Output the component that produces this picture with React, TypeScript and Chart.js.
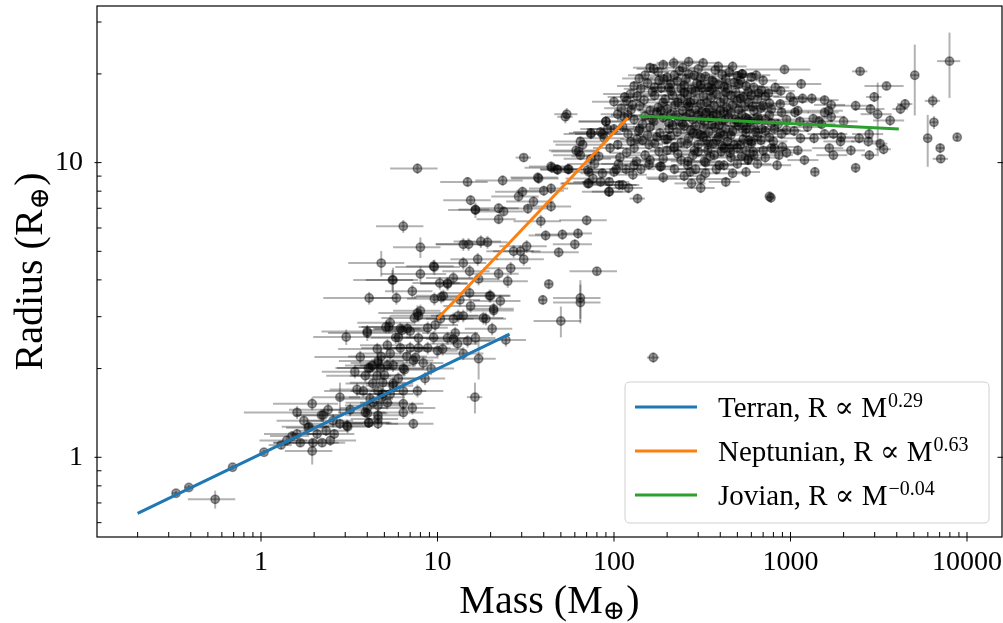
import { useEffect, useRef } from "react";
import { Chart, registerables } from "chart.js";

Chart.register(...registerables);

// [mass (M_earth), radius (R_earth), fractional mass error, fractional radius error]
const terranPoints: number[][] = [
  [0.33, 0.755, 0.05, 0.02], [0.39, 0.79, 0.05, 0.02], [0.55, 0.72, 0.3, 0.07],
  [0.69, 0.925, 0.04, 0.02], [1.04, 1.04, 0.03, 0.02], [1.3, 1.1, 0.15, 0.03],
  [1.4, 1.14, 0.3, 0.04], [1.6, 1.2, 0.35, 0.04], [1.67, 1.12, 0.3, 0.03],
  [1.6, 1.42, 0.5, 0.05], [1.85, 1.26, 0.25, 0.04], [1.95, 1.52, 0.4, 0.05],
  [1.97, 1.12, 0.4, 0.03], [1.95, 1.05, 0.3, 0.1], [2.08, 1.2, 0.3, 0.04],
  [2.2, 1.39, 0.3, 0.05], [2.22, 1.12, 0.35, 0.03], [2.25, 1.39, 0.3, 0.05],
  [2.34, 1.23, 0.3, 0.04], [2.47, 1.14, 0.4, 0.04], [2.56, 1.33, 0.3, 0.05],
  [2.8, 1.3, 0.35, 0.04], [2.8, 1.6, 0.3, 0.12], [1.87, 1.27, 0.3, 0.04],
  [3.1, 1.27, 0.3, 0.05], [3.07, 1.28, 0.4, 0.05], [1.75, 1.33, 0.3, 0.04],
  [2.4, 1.45, 0.4, 0.05], [2.6, 1.2, 0.3, 0.04], [1.5, 1.18, 0.25, 0.04],
];

const smallPoints: number[][] = [
  [3.04, 2.56, 0.35, 0.06], [4.0, 2.64, 0.4, 0.06], [3.65, 2.19, 0.45, 0.05],
  [4.56, 2.33, 0.4, 0.05], [4.06, 2.01, 0.35, 0.05], [4.6, 2.09, 0.3, 0.05],
  [3.9, 1.89, 0.4, 0.05], [4.55, 1.89, 0.3, 0.05], [5.2, 2.05, 0.35, 0.05],
  [4.3, 1.78, 0.3, 0.05], [4.9, 1.79, 0.35, 0.05], [5.6, 1.75, 0.3, 0.05],
  [3.8, 1.68, 0.4, 0.05], [4.9, 1.64, 0.3, 0.05], [4.15, 1.58, 0.35, 0.05],
  [4.0, 1.47, 0.3, 0.05], [4.6, 1.5, 0.35, 0.05], [4.0, 1.41, 0.3, 0.04],
  [4.6, 1.35, 0.3, 0.04], [4.06, 1.31, 0.35, 0.04], [4.6, 1.3, 0.3, 0.04],
  [5.4, 1.64, 0.35, 0.05], [5.2, 1.53, 0.3, 0.05], [4.8, 4.56, 0.35, 0.1],
  [5.55, 4.0, 0.4, 0.08], [8.0, 4.19, 0.4, 0.06], [7.2, 3.66, 0.3, 0.05],
  [4.1, 3.47, 0.45, 0.05], [5.85, 3.47, 0.3, 0.05], [4.0, 2.67, 0.45, 0.05],
  [5.4, 2.86, 0.35, 0.06], [5.1, 2.77, 0.3, 0.05], [6.3, 2.7, 0.35, 0.05],
  [7.0, 2.68, 0.3, 0.05], [7.7, 3.09, 0.4, 0.06], [8.0, 3.14, 0.3, 0.05],
  [7.4, 2.97, 0.35, 0.05], [6.16, 2.35, 0.4, 0.05], [7.8, 2.35, 0.3, 0.05],
  [7.5, 2.18, 0.35, 0.05], [4.6, 2.12, 0.4, 0.05], [4.15, 2.01, 0.35, 0.05],
  [4.75, 2.01, 0.3, 0.05], [5.6, 2.05, 0.35, 0.05], [6.4, 2.0, 0.3, 0.05],
  [4.6, 1.68, 0.3, 0.05], [4.85, 1.6, 0.35, 0.05], [4.3, 1.53, 0.3, 0.05],
  [6.4, 1.68, 0.35, 0.05], [5.6, 1.78, 0.3, 0.05], [7.7, 1.68, 0.4, 0.05],
  [6.4, 1.52, 0.3, 0.05], [7.2, 1.47, 0.35, 0.05], [3.9, 1.42, 0.3, 0.04],
  [4.6, 1.39, 0.35, 0.04], [4.1, 1.31, 0.3, 0.04], [6.4, 1.42, 0.3, 0.05],
  [7.3, 1.3, 0.3, 0.04], [6.4, 6.08, 0.3, 0.05], [8.0, 5.16, 0.3, 0.08],
  [9.6, 4.42, 0.4, 0.06], [5.6, 4.0, 0.3, 0.1], [5.3, 2.77, 0.3, 0.05],
  [6.75, 2.73, 0.35, 0.05], [6.16, 2.73, 0.3, 0.05], [7.8, 2.54, 0.3, 0.05],
  [7.0, 2.35, 0.3, 0.05], [8.8, 2.35, 0.35, 0.05], [8.8, 2.75, 0.3, 0.05],
  [9.7, 2.81, 0.35, 0.05], [7.8, 3.02, 0.3, 0.05], [4.27, 2.05, 0.3, 0.05],
  [6.5, 1.98, 0.35, 0.05], [7.3, 2.13, 0.3, 0.05], [8.3, 2.09, 0.3, 0.05],
  [4.8, 2.2, 0.35, 0.05], [5.2, 2.4, 0.3, 0.05], [5.8, 2.55, 0.3, 0.05],
  [6.7, 2.2, 0.3, 0.05], [8.5, 1.85, 0.3, 0.05], [9.2, 2.0, 0.35, 0.05],
  [3.4, 1.95, 0.35, 0.05], [3.5, 1.7, 0.3, 0.05], [5.0, 1.9, 0.3, 0.05],
  [6.0, 1.85, 0.35, 0.05], [5.4, 2.25, 0.3, 0.05], [6.0, 2.55, 0.3, 0.05],
  [9.5, 2.55, 0.3, 0.05], [3.2, 1.45, 0.3, 0.05],
];

const midPoints: number[][] = [
  [10.7, 2.33, 0.3, 0.05], [11.4, 2.54, 0.3, 0.05], [12.6, 2.64, 0.35, 0.05],
  [12.3, 2.52, 0.3, 0.05], [13.0, 2.43, 0.3, 0.05], [14.8, 2.48, 0.35, 0.05],
  [16.4, 2.54, 0.3, 0.05], [14.0, 2.25, 0.3, 0.05], [17.1, 2.16, 0.25, 0.15],
  [16.3, 1.6, 0.1, 0.12], [20.4, 2.73, 0.3, 0.05], [18.8, 2.95, 0.3, 0.05],
  [20.8, 3.19, 0.3, 0.05], [14.0, 3.02, 0.3, 0.05], [12.3, 2.95, 0.3, 0.05],
  [10.4, 2.95, 0.3, 0.05], [10.0, 2.3, 0.3, 0.05], [15.0, 5.28, 0.35, 0.05],
  [14.0, 5.28, 0.3, 0.05], [17.6, 5.4, 0.3, 0.05], [16.4, 6.9, 0.3, 0.06],
  [19.2, 5.37, 0.3, 0.05], [14.0, 4.56, 0.35, 0.05], [16.9, 4.7, 0.3, 0.05],
  [15.2, 4.28, 0.3, 0.05], [10.3, 3.9, 0.3, 0.05], [11.4, 3.9, 0.3, 0.05],
  [12.3, 4.06, 0.3, 0.05], [10.8, 3.53, 0.3, 0.05], [9.6, 3.45, 0.3, 0.05],
  [13.4, 3.42, 0.3, 0.05], [15.2, 3.61, 0.3, 0.05], [17.1, 4.03, 0.3, 0.05],
  [19.7, 3.53, 0.3, 0.05], [7.7, 9.55, 0.3, 0.04], [14.8, 8.6, 0.3, 0.04],
  [23.4, 8.7, 0.3, 0.04], [30.8, 10.4, 0.1, 0.03], [15.4, 7.45, 0.3, 0.04],
  [16.4, 6.93, 0.2, 0.04], [22.2, 7.0, 0.3, 0.04], [23.7, 6.83, 0.3, 0.04],
  [22.2, 6.43, 0.25, 0.04], [28.8, 7.68, 0.3, 0.04], [30.3, 7.97, 0.3, 0.04],
  [32.5, 6.98, 0.3, 0.04], [35, 7.38, 0.3, 0.04], [37.4, 8.83, 0.3, 0.04],
  [44, 9.7, 0.25, 0.04], [40, 8.03, 0.3, 0.04], [44, 8.17, 0.25, 0.04],
  [47.5, 9.5, 0.2, 0.04], [55.5, 9.5, 0.25, 0.04], [44, 7.1, 0.3, 0.04],
  [38.5, 6.33, 0.3, 0.05], [41, 5.66, 0.2, 0.04], [51, 5.7, 0.3, 0.04],
  [60, 5.28, 0.25, 0.04], [62.5, 5.75, 0.2, 0.04], [70, 6.37, 0.3, 0.04],
  [48.6, 4.96, 0.3, 0.04], [80, 4.28, 0.3, 0.03], [42.7, 3.87, 0.05, 0.04],
  [39.5, 3.42, 0.05, 0.04], [64.5, 3.47, 0.3, 0.15], [64.5, 3.35, 0.3, 0.15],
  [50, 2.9, 0.3, 0.12], [29.5, 5.0, 0.3, 0.05], [30.8, 4.7, 0.3, 0.05],
  [27, 5.0, 0.3, 0.05], [32, 5.2, 0.3, 0.05], [26, 4.38, 0.3, 0.05],
  [9.5, 4.45, 0.3, 0.05], [11.4, 3.87, 0.3, 0.05], [15.4, 3.26, 0.3, 0.05],
  [20, 3.53, 0.3, 0.05], [25, 3.96, 0.3, 0.05], [22.2, 4.2, 0.3, 0.05],
  [22.7, 3.39, 0.3, 0.05], [20.8, 3.15, 0.3, 0.05], [18.2, 2.97, 0.3, 0.05],
  [13.1, 3.02, 0.3, 0.05], [10.5, 3.5, 0.3, 0.05], [24.4, 2.5, 0.3, 0.05],
  [167, 2.18, 0.08, 0.04], [66.5, 11.5, 0.3, 0.04], [61, 11.0, 0.3, 0.04],
  [64.5, 10.6, 0.3, 0.04], [71, 9.45, 0.25, 0.04], [76, 8.83, 0.3, 0.04],
  [71, 8.5, 0.3, 0.04], [84, 8.6, 0.3, 0.04], [86, 9.2, 0.25, 0.04],
  [93.5, 7.97, 0.2, 0.04], [77.5, 9.9, 0.3, 0.04], [100, 9.3, 0.3, 0.04],
  [107, 8.4, 0.3, 0.04], [84, 12.7, 0.3, 0.04], [92, 13.0, 0.3, 0.04],
  [88, 12.1, 0.3, 0.04], [74, 12.5, 0.3, 0.04], [54, 14.6, 0.15, 0.05],
  [53, 14.3, 0.1, 0.05], [74, 12.6, 0.25, 0.04], [44.5, 9.6, 0.3, 0.04],
  [48, 9.45, 0.2, 0.04], [37, 8.9, 0.3, 0.04], [54.8, 9.5, 0.2, 0.04],
  [72, 9.3, 0.3, 0.04], [72, 8.5, 0.3, 0.04], [94, 8.6, 0.3, 0.04],
  [103, 9.5, 0.3, 0.04], [94, 7.97, 0.3, 0.04], [63, 10.9, 0.3, 0.04],
  [82, 10.5, 0.3, 0.04], [74, 10.3, 0.3, 0.04], [64.5, 11.8, 0.3, 0.04],
  [86, 12.5, 0.3, 0.04], [90, 13.8, 0.3, 0.04], [100, 13.0, 0.3, 0.04],
];

const jovianEdgePoints: number[][] = [
  [100, 16.1, 0.25, 0.04], [139, 19.3, 0.2, 0.04], [168, 20.8, 0.2, 0.04],
  [218, 21.8, 0.2, 0.05], [265, 22, 0.2, 0.04], [375, 20.6, 0.2, 0.04],
  [470, 21.2, 0.2, 0.04], [530, 20, 0.2, 0.04], [124, 17.1, 0.3, 0.04],
  [142, 17.8, 0.2, 0.04], [165, 17.4, 0.2, 0.04], [192, 19.2, 0.2, 0.04],
  [210, 18.5, 0.2, 0.04], [240, 17.8, 0.2, 0.04], [285, 19.8, 0.2, 0.04],
  [310, 18.4, 0.2, 0.04], [365, 18.8, 0.2, 0.04], [420, 18.1, 0.2, 0.04],
  [510, 18.5, 0.2, 0.04], [575, 17.4, 0.2, 0.04], [114, 14.3, 0.2, 0.04],
  [120, 12.5, 0.2, 0.04], [112, 8.4, 0.2, 0.04], [121, 8.2, 0.2, 0.04],
  [136, 7.55, 0.1, 0.04], [117, 9.5, 0.2, 0.04], [128, 9.1, 0.2, 0.04],
  [134, 10.1, 0.2, 0.04], [185, 9.7, 0.2, 0.04], [180, 10.9, 0.2, 0.04],
  [158, 11.5, 0.2, 0.04], [218, 11.2, 0.2, 0.04], [262, 10.1, 0.2, 0.04],
  [280, 10.6, 0.2, 0.04], [325, 10.1, 0.2, 0.04], [340, 11.5, 0.2, 0.04],
  [395, 9.8, 0.2, 0.04], [420, 9.8, 0.2, 0.04], [405, 10.9, 0.2, 0.04],
  [310, 8.8, 0.5, 0.04], [275, 8.5, 0.2, 0.04], [310, 8.2, 0.2, 0.04],
  [430, 8.6, 0.2, 0.04], [760, 7.67, 0.05, 0.04], [106, 9.9, 0.2, 0.04],
  [142, 9.5, 0.2, 0.04], [158, 9.85, 0.2, 0.04], [182, 9.7, 0.2, 0.04],
  [262, 9.8, 0.2, 0.04], [460, 10.4, 0.2, 0.04], [575, 10.2, 0.2, 0.04],
  [615, 10.9, 0.2, 0.04], [810, 11.2, 0.2, 0.04], [860, 10.6, 0.2, 0.04],
  [900, 11.3, 0.2, 0.04], [925, 20.7, 0.4, 0.03], [2480, 20.4, 0.1, 0.03],
  [3500, 18.2, 0.25, 0.03], [5060, 19.8, 0.05, 0.27], [7960, 22.1, 0.15, 0.25],
  [1150, 18.5, 0.3, 0.04], [535, 20, 0.2, 0.04], [685, 17.6, 0.2, 0.04],
  [750, 17.2, 0.2, 0.04], [1000, 16.7, 0.2, 0.04], [1170, 16.5, 0.2, 0.04],
  [1320, 16.5, 0.2, 0.04], [1560, 16.3, 0.2, 0.04], [1700, 15.7, 0.2, 0.04],
  [2340, 15.6, 0.25, 0.04], [2980, 16.7, 0.1, 0.04], [2840, 15.2, 0.2, 0.04],
  [3120, 14.6, 0.2, 0.28], [4200, 15.2, 0.1, 0.04], [4460, 15.8, 0.1, 0.04],
  [3670, 13.9, 0.2, 0.04], [6400, 16.2, 0.1, 0.05], [6500, 13.7, 0.05, 0.05],
  [5990, 12.1, 0.05, 0.2], [8800, 12.2, 0.03, 0.03], [7050, 11.2, 0.05, 0.04],
  [7100, 10.3, 0.1, 0.03], [2790, 12.5, 0.2, 0.04], [2760, 11.8, 0.2, 0.04],
  [2450, 12.1, 0.2, 0.04], [2800, 10.6, 0.1, 0.04], [3220, 11.6, 0.1, 0.04],
  [3370, 11.1, 0.1, 0.04], [2340, 9.6, 0.05, 0.04], [1375, 9.3, 0.05, 0.04],
  [775, 7.6, 0.05, 0.04], [1700, 14.3, 0.2, 0.04], [1560, 14.8, 0.2, 0.04],
  [1650, 15.0, 0.2, 0.04], [1345, 14.1, 0.2, 0.04], [1560, 12.5, 0.2, 0.04],
  [1750, 12.5, 0.2, 0.04], [1940, 12.2, 0.2, 0.04], [1920, 11.8, 0.2, 0.04],
  [1360, 12.1, 0.2, 0.04], [1140, 12.1, 0.2, 0.04], [1660, 11.2, 0.2, 0.04],
  [1750, 10.6, 0.2, 0.04], [875, 15.8, 0.2, 0.04], [1040, 16.1, 0.2, 0.04],
  [1060, 14.8, 0.2, 0.04], [1130, 13.8, 0.2, 0.04], [890, 14.8, 0.2, 0.04],
  [780, 15.2, 0.2, 0.04], [890, 12.5, 0.2, 0.04], [800, 11.8, 0.2, 0.04],
  [780, 11.2, 0.2, 0.04], [575, 10.3, 0.2, 0.04], [600, 11.8, 0.2, 0.04],
  [635, 12.7, 0.2, 0.04], [690, 13.0, 0.2, 0.04], [560, 13.0, 0.2, 0.04],
  [575, 14.0, 0.2, 0.04], [660, 14.0, 0.2, 0.04], [610, 15.5, 0.2, 0.04],
  [700, 15.6, 0.2, 0.04], [780, 13.6, 0.2, 0.04], [810, 13.0, 0.2, 0.04],
  [90, 13.8, 0.3, 0.04], [127, 15.7, 0.2, 0.04], [110, 15.3, 0.2, 0.04],
  [115, 16.7, 0.2, 0.04], [105, 11.5, 0.2, 0.04], [118, 10.8, 0.2, 0.04],
  [130, 11.2, 0.2, 0.04],
];

const jovianCorePoints: number[][] = [
  [150, 19.8, 0.2, 0.04], [178, 20.3, 0.15, 0.04], [200, 19.5, 0.2, 0.04], [235, 20.5, 0.2, 0.04],
  [255, 19.2, 0.15, 0.04], [300, 20.8, 0.2, 0.04], [330, 19.6, 0.2, 0.04], [410, 19.9, 0.2, 0.04],
  [450, 20.3, 0.15, 0.04], [600, 19.5, 0.2, 0.04], [640, 19.8, 0.2, 0.04],
  [130, 18.2, 0.2, 0.04], [155, 18.6, 0.2, 0.04], [185, 17.9, 0.15, 0.04], [205, 18.0, 0.2, 0.04],
  [228, 18.9, 0.2, 0.04], [250, 18.3, 0.2, 0.04], [275, 17.7, 0.15, 0.04], [295, 18.6, 0.2, 0.04],
  [340, 18.0, 0.2, 0.04], [350, 17.5, 0.2, 0.04], [390, 18.4, 0.15, 0.04], [440, 17.9, 0.2, 0.04],
  [480, 18.7, 0.2, 0.04], [560, 18.2, 0.2, 0.04], [620, 18.0, 0.2, 0.04], [660, 17.2, 0.2, 0.04],
  [118, 16.2, 0.2, 0.04], [135, 16.8, 0.2, 0.04], [148, 16.3, 0.15, 0.04], [170, 16.9, 0.2, 0.04],
  [195, 16.4, 0.2, 0.04], [215, 16.9, 0.2, 0.04], [240, 16.5, 0.15, 0.04], [260, 17.0, 0.2, 0.04],
  [285, 16.3, 0.2, 0.04], [320, 16.8, 0.2, 0.04], [355, 16.6, 0.15, 0.04], [380, 17.1, 0.2, 0.04],
  [420, 16.4, 0.2, 0.04], [460, 16.9, 0.2, 0.04], [500, 16.2, 0.2, 0.04], [540, 16.7, 0.15, 0.04],
  [600, 16.9, 0.2, 0.04], [650, 16.4, 0.2, 0.04], [720, 16.8, 0.2, 0.04],
  [125, 15.1, 0.2, 0.04], [140, 15.6, 0.2, 0.04], [160, 15.0, 0.15, 0.04], [178, 15.4, 0.2, 0.04],
  [200, 15.2, 0.2, 0.04], [222, 15.7, 0.2, 0.04], [245, 15.0, 0.15, 0.04], [265, 15.5, 0.2, 0.04],
  [290, 15.1, 0.2, 0.04], [310, 15.8, 0.2, 0.04], [345, 15.2, 0.15, 0.04], [370, 15.6, 0.2, 0.04],
  [400, 15.0, 0.2, 0.04], [435, 15.4, 0.2, 0.04], [470, 15.7, 0.15, 0.04], [510, 15.1, 0.2, 0.04],
  [550, 15.5, 0.2, 0.04], [620, 15.0, 0.2, 0.04], [680, 15.3, 0.2, 0.04], [760, 15.9, 0.2, 0.04],
  [130, 14.0, 0.2, 0.04], [150, 14.4, 0.2, 0.04], [168, 13.8, 0.15, 0.04], [190, 14.2, 0.2, 0.04],
  [210, 14.6, 0.2, 0.04], [232, 13.9, 0.2, 0.04], [255, 14.3, 0.15, 0.04], [280, 14.0, 0.2, 0.04],
  [300, 14.5, 0.2, 0.04], [325, 13.8, 0.2, 0.04], [350, 14.2, 0.15, 0.04], [380, 14.6, 0.2, 0.04],
  [410, 13.9, 0.2, 0.04], [445, 14.3, 0.2, 0.04], [490, 14.0, 0.15, 0.04], [530, 14.5, 0.2, 0.04],
  [590, 13.8, 0.2, 0.04], [650, 14.3, 0.2, 0.04], [720, 14.0, 0.2, 0.04],
  [138, 12.8, 0.2, 0.04], [160, 13.2, 0.2, 0.04], [182, 12.6, 0.15, 0.04], [205, 13.0, 0.2, 0.04],
  [228, 12.7, 0.2, 0.04], [250, 13.3, 0.2, 0.04], [272, 12.9, 0.15, 0.04], [298, 12.5, 0.2, 0.04],
  [322, 13.1, 0.2, 0.04], [345, 12.7, 0.2, 0.04], [372, 13.2, 0.15, 0.04], [400, 12.6, 0.2, 0.04],
  [430, 13.0, 0.2, 0.04], [470, 12.8, 0.2, 0.04], [510, 13.3, 0.15, 0.04], [560, 12.6, 0.2, 0.04],
  [720, 12.8, 0.2, 0.04],
  [145, 11.9, 0.2, 0.04], [170, 11.6, 0.2, 0.04], [195, 12.0, 0.15, 0.04], [240, 11.7, 0.2, 0.04],
  [265, 12.1, 0.2, 0.04], [300, 11.5, 0.2, 0.04], [335, 11.9, 0.15, 0.04], [365, 11.6, 0.2, 0.04],
  [390, 12.2, 0.2, 0.04], [440, 11.8, 0.2, 0.04], [480, 11.5, 0.15, 0.04], [540, 12.0, 0.2, 0.04],
  [600, 11.6, 0.2, 0.04], [680, 11.9, 0.2, 0.04],
  [150, 10.6, 0.2, 0.04], [200, 11.0, 0.2, 0.04], [230, 10.7, 0.15, 0.04], [300, 10.9, 0.2, 0.04],
  [350, 10.5, 0.2, 0.04], [455, 10.8, 0.15, 0.04], [500, 11.2, 0.2, 0.04], [620, 10.6, 0.2, 0.04],
  [700, 11.0, 0.2, 0.04],
];

const jovianExtraPoints: number[][] = [
  [160, 21.0, 0.2, 0.04], [190, 21.5, 0.2, 0.04], [245, 21.0, 0.2, 0.04], [320, 21.8, 0.2, 0.04],
  [390, 21.2, 0.2, 0.04], [520, 19.0, 0.2, 0.04], [700, 19.0, 0.2, 0.04], [820, 18.0, 0.2, 0.04],
  [880, 17.5, 0.2, 0.04], [145, 13.5, 0.2, 0.04], [175, 14.8, 0.2, 0.04], [215, 13.4, 0.2, 0.04],
  [260, 15.8, 0.2, 0.04], [315, 14.9, 0.2, 0.04], [360, 13.5, 0.2, 0.04], [420, 14.9, 0.2, 0.04],
  [480, 13.6, 0.2, 0.04], [560, 14.2, 0.2, 0.04], [620, 13.2, 0.2, 0.04], [760, 14.5, 0.2, 0.04],
  [850, 13.5, 0.2, 0.04], [950, 14.0, 0.2, 0.04], [1100, 15.0, 0.2, 0.04], [1250, 13.2, 0.2, 0.04],
  [1450, 13.8, 0.2, 0.04], [130, 9.8, 0.2, 0.04], [160, 10.2, 0.2, 0.04], [190, 8.9, 0.2, 0.04],
  [220, 9.5, 0.2, 0.04], [250, 9.0, 0.2, 0.04], [290, 9.5, 0.2, 0.04], [330, 9.2, 0.2, 0.04],
  [370, 10.6, 0.2, 0.04], [420, 11.2, 0.2, 0.04], [500, 9.9, 0.2, 0.04], [560, 9.3, 0.2, 0.04],
  [650, 9.9, 0.2, 0.04], [720, 10.4, 0.2, 0.04], [840, 9.8, 0.2, 0.04], [950, 10.8, 0.2, 0.04],
  [1100, 11.0, 0.2, 0.04], [1200, 10.2, 0.2, 0.04], [1500, 13.5, 0.2, 0.04], [2000, 13.8, 0.2, 0.04],
  [2200, 11.0, 0.2, 0.04], [125, 11.8, 0.2, 0.04], [155, 12.4, 0.2, 0.04], [210, 12.3, 0.2, 0.04],
  [280, 12.6, 0.2, 0.04], [320, 12.2, 0.2, 0.04], [410, 11.4, 0.2, 0.04], [460, 12.4, 0.2, 0.04],
  [580, 11.9, 0.2, 0.04], [650, 12.3, 0.2, 0.04], [760, 12.2, 0.2, 0.04], [950, 12.9, 0.2, 0.04],
  [1050, 12.8, 0.2, 0.04], [105, 14.6, 0.2, 0.04], [112, 13.2, 0.2, 0.04], [95, 11.2, 0.2, 0.04],
  [108, 10.4, 0.2, 0.04],
];

const jovianDensePoints: number[][] = [
  [170, 18.0, 0.2, 0.04], [190, 16.0, 0.2, 0.04], [210, 17.5, 0.15, 0.04], [230, 16.0, 0.2, 0.04],
  [250, 17.3, 0.2, 0.04], [270, 16.0, 0.15, 0.04], [290, 17.5, 0.2, 0.04], [315, 17.9, 0.2, 0.04],
  [335, 16.0, 0.15, 0.04], [360, 17.8, 0.2, 0.04], [400, 16.0, 0.2, 0.04], [430, 17.3, 0.15, 0.04],
  [490, 17.3, 0.2, 0.04], [520, 16.5, 0.2, 0.04], [580, 16.0, 0.2, 0.04],
  [165, 14.1, 0.2, 0.04], [185, 15.0, 0.15, 0.04], [205, 13.6, 0.2, 0.04], [225, 14.5, 0.2, 0.04],
  [245, 13.5, 0.15, 0.04], [270, 14.7, 0.2, 0.04], [290, 13.3, 0.2, 0.04], [310, 14.0, 0.15, 0.04],
  [335, 14.8, 0.2, 0.04], [365, 14.4, 0.2, 0.04], [395, 13.4, 0.15, 0.04], [425, 14.0, 0.2, 0.04],
  [460, 14.8, 0.2, 0.04], [505, 13.8, 0.15, 0.04], [545, 13.3, 0.2, 0.04],
  [175, 12.2, 0.2, 0.04], [200, 12.0, 0.2, 0.04], [220, 11.3, 0.15, 0.04], [260, 11.6, 0.2, 0.04],
  [285, 11.0, 0.2, 0.04], [310, 12.4, 0.15, 0.04], [340, 11.0, 0.2, 0.04], [380, 11.9, 0.2, 0.04],
  [420, 12.4, 0.15, 0.04], [450, 11.2, 0.2, 0.04], [520, 11.5, 0.2, 0.04], [560, 11.0, 0.2, 0.04],
  [180, 19.0, 0.2, 0.04], [220, 19.8, 0.2, 0.04], [265, 20.0, 0.15, 0.04], [310, 19.4, 0.2, 0.04],
  [360, 19.0, 0.2, 0.04], [430, 19.2, 0.15, 0.04], [500, 19.7, 0.2, 0.04],
  [140, 13.0, 0.2, 0.04], [120, 14.5, 0.2, 0.04], [135, 12.0, 0.2, 0.04], [190, 10.3, 0.2, 0.04],
  [240, 10.2, 0.2, 0.04], [270, 9.3, 0.2, 0.04], [330, 10.0, 0.2, 0.04], [380, 9.5, 0.2, 0.04],
  [470, 9.2, 0.2, 0.04], [530, 10.5, 0.2, 0.04],
];

const terranFitMass = [0.2, 25.6];
const terranFitRadius = [0.645, 2.62];
const neptunianFitMass = [10, 120];
const neptunianFitRadius = [2.95, 14.2];
const jovianFitMass = [139, 4110];
const jovianFitRadius = [14.4, 13.0];

const xMajorTicks = [1, 10, 100, 1000, 10000];
const yMajorTicks = [1, 10];
const legendLabels = ["Terran, R \u221D M", "Neptunian, R \u221D M", "Jovian, R \u221D M"];
const legendExponents = ["0.29", "0.63", "\u22120.04"];
const fitColors = ["#1f77b4", "#ff7f0e", "#2ca02c"];

const SERIF = "'Liberation Serif', 'DejaVu Serif', serif";

export default function App() {
  const ref = useRef<HTMLCanvasElement>(null);

  useEffect(() => {
    document.body.style.margin = "0";
    const canvas = ref.current;
    if (!canvas) return;
    const allPoints = [
      ...terranPoints, ...smallPoints, ...midPoints,
      ...jovianEdgePoints, ...jovianCorePoints, ...jovianExtraPoints, ...jovianDensePoints,
    ];

    const errorBarPlugin = {
      id: "errorBars",
      beforeDatasetsDraw(chart: any) {
        const { ctx, chartArea } = chart;
        const x = chart.scales.x;
        const y = chart.scales.y;
        ctx.save();
        ctx.beginPath();
        ctx.rect(chartArea.left, chartArea.top, chartArea.right - chartArea.left, chartArea.bottom - chartArea.top);
        ctx.clip();
        ctx.strokeStyle = "rgba(0,0,0,0.3)";
        ctx.lineWidth = 2;
        for (const [m, r, me, re] of allPoints) {
          const px = x.getPixelForValue(m);
          const py = y.getPixelForValue(r);
          ctx.beginPath();
          ctx.moveTo(x.getPixelForValue(m * (1 - me)), py);
          ctx.lineTo(x.getPixelForValue(m * (1 + me)), py);
          ctx.stroke();
          ctx.beginPath();
          ctx.moveTo(px, y.getPixelForValue(r * (1 - re)));
          ctx.lineTo(px, y.getPixelForValue(r * (1 + re)));
          ctx.stroke();
        }
        ctx.restore();
      },
    };

    const frameTitleLegendPlugin = {
      id: "frameTitleLegend",
      afterDraw(chart: any) {
        const { ctx, chartArea } = chart;
        const x = chart.scales.x;
        const y = chart.scales.y;
        const { left, right, top, bottom } = chartArea;
        ctx.save();
        ctx.strokeStyle = "#000";
        ctx.lineWidth = 1.2;
        ctx.strokeRect(left, top, right - left, bottom - top);
        ctx.lineWidth = 1;
        for (let e = -1; e <= 4; e++) {
          for (let k = 1; k <= 9; k++) {
            const v = k * Math.pow(10, e);
            const px = x.getPixelForValue(v);
            if (px < left + 1 || px > right - 1) continue;
            ctx.beginPath();
            ctx.moveTo(px, bottom - 5);
            ctx.lineTo(px, k === 1 ? bottom + 4.5 : bottom);
            ctx.stroke();
          }
        }
        for (let e = -1; e <= 1; e++) {
          for (let k = 1; k <= 9; k++) {
            const v = k * Math.pow(10, e);
            const py = y.getPixelForValue(v);
            if (py < top + 1 || py > bottom - 1) continue;
            ctx.beginPath();
            if (k === 1) {
              ctx.moveTo(left - 2.5, py);
              ctx.lineTo(left + 4.5, py);
              ctx.moveTo(right - 4.5, py);
              ctx.lineTo(right + 2.5, py);
            } else {
              ctx.moveTo(left, py);
              ctx.lineTo(left + 4.5, py);
            }
            ctx.stroke();
          }
        }

        const drawSubLabel = (main: string, sub: string, cx: number, baseline: number, rotate: boolean) => {
          ctx.save();
          ctx.translate(cx, baseline);
          if (rotate) ctx.rotate(-Math.PI / 2);
          ctx.fillStyle = "#000";
          ctx.textBaseline = "alphabetic";
          ctx.textAlign = "left";
          const mainFont = `40px ${SERIF}`;
          const subFont = `27px ${SERIF}`;
          ctx.font = mainFont;
          const w1 = ctx.measureText(main).width;
          const w3 = ctx.measureText(")").width;
          ctx.font = subFont;
          const w2 = ctx.measureText(sub).width;
          const total = w1 + w2 + w3 + 1;
          let sx = -total / 2;
          ctx.font = mainFont;
          ctx.fillText(main, sx, 0);
          sx += w1;
          ctx.font = subFont;
          ctx.fillText(sub, sx, 6);
          sx += w2 + 1;
          ctx.font = mainFont;
          ctx.fillText(")", sx, 0);
          ctx.restore();
        };
        drawSubLabel("Mass (M", "\u2295", (left + right) / 2, 613, false);
        drawSubLabel("Radius (R", "\u2295", 42, (top + bottom) / 2, true);

        const bx = 625, by = 382, bw = 364, bh = 141, rad = 5;
        ctx.beginPath();
        ctx.moveTo(bx + rad, by);
        ctx.lineTo(bx + bw - rad, by);
        ctx.quadraticCurveTo(bx + bw, by, bx + bw, by + rad);
        ctx.lineTo(bx + bw, by + bh - rad);
        ctx.quadraticCurveTo(bx + bw, by + bh, bx + bw - rad, by + bh);
        ctx.lineTo(bx + rad, by + bh);
        ctx.quadraticCurveTo(bx, by + bh, bx, by + bh - rad);
        ctx.lineTo(bx, by + rad);
        ctx.quadraticCurveTo(bx, by, bx + rad, by);
        ctx.closePath();
        ctx.fillStyle = "rgba(255,255,255,0.8)";
        ctx.fill();
        ctx.strokeStyle = "#d0d0d0";
        ctx.lineWidth = 1;
        ctx.stroke();
        for (let i = 0; i < legendLabels.length; i++) {
          const cy = 407 + i * 44;
          ctx.strokeStyle = fitColors[i];
          ctx.lineWidth = 3;
          ctx.beginPath();
          ctx.moveTo(635, cy);
          ctx.lineTo(697, cy);
          ctx.stroke();
          ctx.fillStyle = "#000";
          ctx.textBaseline = "alphabetic";
          ctx.textAlign = "left";
          ctx.font = `29px ${SERIF}`;
          ctx.fillText(legendLabels[i], 718, cy + 10);
          const w = ctx.measureText(legendLabels[i]).width;
          ctx.font = `20px ${SERIF}`;
          ctx.fillText(legendExponents[i], 718 + w + 1, cy);
        }
        ctx.restore();
      },
    };

    const pts = allPoints.map((p) => ({ x: p[0], y: p[1] }));
    const fitData = (ms: number[], rs: number[]) => ms.map((m, i) => ({ x: m, y: rs[i] }));
    const fitDataset = (label: string, ms: number[], rs: number[], color: string) => ({
      label,
      data: fitData(ms, rs),
      showLine: true,
      borderColor: color,
      borderWidth: 3,
      pointRadius: 0,
      order: 0,
    });

    const chart = new Chart(canvas, {
      type: "scatter",
      data: {
        datasets: [
          fitDataset("Terran", terranFitMass, terranFitRadius, fitColors[0]),
          fitDataset("Neptunian", neptunianFitMass, neptunianFitRadius, fitColors[1]),
          fitDataset("Jovian", jovianFitMass, jovianFitRadius, fitColors[2]),
          {
            label: "Planets",
            data: pts,
            pointRadius: 4.2,
            pointBackgroundColor: "rgba(0,0,0,0.4)",
            pointBorderColor: "rgba(0,0,0,0.4)",
            pointBorderWidth: 1.5,
            order: 10,
          },
        ],
      },
      options: {
        animation: false,
        responsive: false,
        devicePixelRatio: 1,
        layout: { autoPadding: false, padding: { top: 6, right: 1, left: 0, bottom: 0 } },
        plugins: { legend: { display: false }, tooltip: { enabled: false } },
        scales: {
          x: {
            type: "logarithmic",
            min: 0.1177,
            max: 15790,
            afterBuildTicks: (s: any) => {
              s.ticks = xMajorTicks.map((v) => ({ value: v }));
            },
            afterFit: (s: any) => {
              s.height = 86;
              s.paddingLeft = 0;
              s.paddingRight = 0;
            },
            ticks: {
              callback: (v: any) => String(v),
              font: { family: SERIF, size: 28 },
              color: "#000",
              padding: 9,
              autoSkip: false,
              maxRotation: 0,
            },
            grid: { display: false, drawTicks: false },
            border: { display: false },
          },
          y: {
            type: "logarithmic",
            min: 0.5364,
            max: 34.0,
            afterBuildTicks: (s: any) => {
              s.ticks = yMajorTicks.map((v) => ({ value: v }));
            },
            afterFit: (s: any) => {
              s.width = 97;
              s.paddingTop = 0;
              s.paddingBottom = 0;
            },
            ticks: {
              callback: (v: any) => String(v),
              font: { family: SERIF, size: 28 },
              color: "#000",
              padding: 14,
              autoSkip: false,
            },
            grid: { display: false, drawTicks: false },
            border: { display: false },
          },
        },
      },
      plugins: [errorBarPlugin, frameTitleLegendPlugin],
    } as any);

    return () => chart.destroy();
  }, []);

  return (
    <div style={{ width: 1003, height: 623, position: "relative", background: "#fff" }}>
      <canvas ref={ref} width={1003} height={623} style={{ display: "block" }} />
    </div>
  );
}
